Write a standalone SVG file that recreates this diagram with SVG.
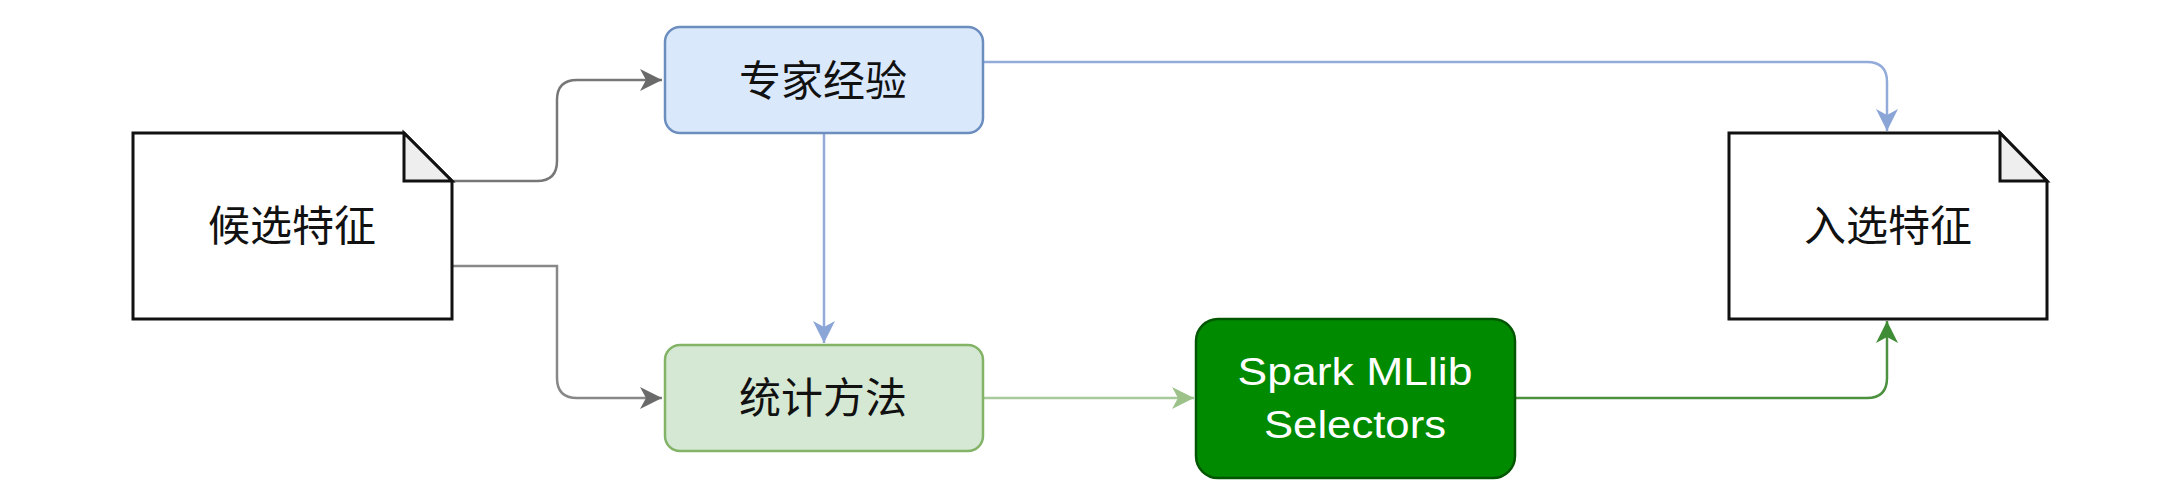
<svg xmlns="http://www.w3.org/2000/svg" width="2166" height="486" viewBox="0 0 2166 486">
<style>
.cjk{font-family:"Noto Sans CJK SC","Noto Sans",sans-serif;font-size:42px;fill:#111;text-anchor:middle}
.spark{font-family:"Liberation Sans",Arial,sans-serif;font-size:38px;fill:#ffffff;text-anchor:middle}
.doc{fill:#ffffff;stroke:#111;stroke-width:3;stroke-linejoin:miter}
.fold{fill:#eeeeee;stroke:#111;stroke-width:3;stroke-linejoin:miter}
.conn{fill:none;stroke-width:2.5}
</style>
<defs>
<marker id="aGray" markerWidth="24" markerHeight="22" refX="22" refY="11" orient="auto" markerUnits="userSpaceOnUse"><path d="M0,0 L22,11 L0,22 L6,11 Z" fill="#6a6a6a"/></marker>
<marker id="aBlue" markerWidth="24" markerHeight="22" refX="22" refY="11" orient="auto" markerUnits="userSpaceOnUse"><path d="M0,0 L22,11 L0,22 L6,11 Z" fill="#8aa5d6"/></marker>
<marker id="aLGreen" markerWidth="24" markerHeight="22" refX="22" refY="11" orient="auto" markerUnits="userSpaceOnUse"><path d="M0,0 L22,11 L0,22 L6,11 Z" fill="#9cc28a"/></marker>
<marker id="aDGreen" markerWidth="24" markerHeight="22" refX="22" refY="11" orient="auto" markerUnits="userSpaceOnUse"><path d="M0,0 L22,11 L0,22 L6,11 Z" fill="#3f8c36"/></marker>
</defs>
<rect width="2166" height="486" fill="#ffffff"/>
<g id="connectors">
<path class="conn" stroke="#777777" d="M452,181 H537 Q557,181 557,161 V100 Q557,80 577,80 H662" marker-end="url(#aGray)"/>
<path class="conn" stroke="#888888" d="M452,266 H557 V378 Q557,398 577,398 H662" marker-end="url(#aGray)"/>
<path class="conn" stroke="#92abd9" d="M824,134 V343" marker-end="url(#aBlue)"/>
<path class="conn" stroke="#92abd9" d="M984,62 H1867 Q1887,62 1887,82 V131" marker-end="url(#aBlue)"/>
<path class="conn" stroke="#a8c99a" d="M984,398 H1194" marker-end="url(#aLGreen)"/>
<path class="conn" stroke="#4b9140" d="M1516,398 H1867 Q1887,398 1887,378 V321" marker-end="url(#aDGreen)"/>
</g>
<g id="node-candidate">
<path class="doc" d="M133,133 H404 L452,181 V319 H133 Z"/>
<path class="fold" d="M404,133 V181 H452 Z"/>
<text class="cjk" x="292" y="241">候选特征</text>
</g>
<g id="node-expert">
<rect x="665" y="27" width="318" height="106" rx="15" ry="15" fill="#dae8fc" stroke="#6c8ebf" stroke-width="2.5"/>
<text class="cjk" x="823" y="96">专家经验</text>
</g>
<g id="node-stats">
<rect x="665" y="345" width="318" height="106" rx="15" ry="15" fill="#d5e8d4" stroke="#82b366" stroke-width="2.5"/>
<text class="cjk" x="823" y="413">统计方法</text>
</g>
<g id="node-spark">
<rect x="1196" y="319" width="319" height="159" rx="22" ry="22" fill="#008a00" stroke="#005700" stroke-width="2.5"/>
<text class="spark" x="1355" y="385" textLength="235" lengthAdjust="spacingAndGlyphs">Spark MLlib</text>
<text class="spark" x="1355" y="438" textLength="182" lengthAdjust="spacingAndGlyphs">Selectors</text>
</g>
<g id="node-selected">
<path class="doc" d="M1729,133 H2000 L2047,181 V319 H1729 Z"/>
<path class="fold" d="M2000,133 V181 H2047 Z"/>
<text class="cjk" x="1888" y="241">入选特征</text>
</g>
</svg>
